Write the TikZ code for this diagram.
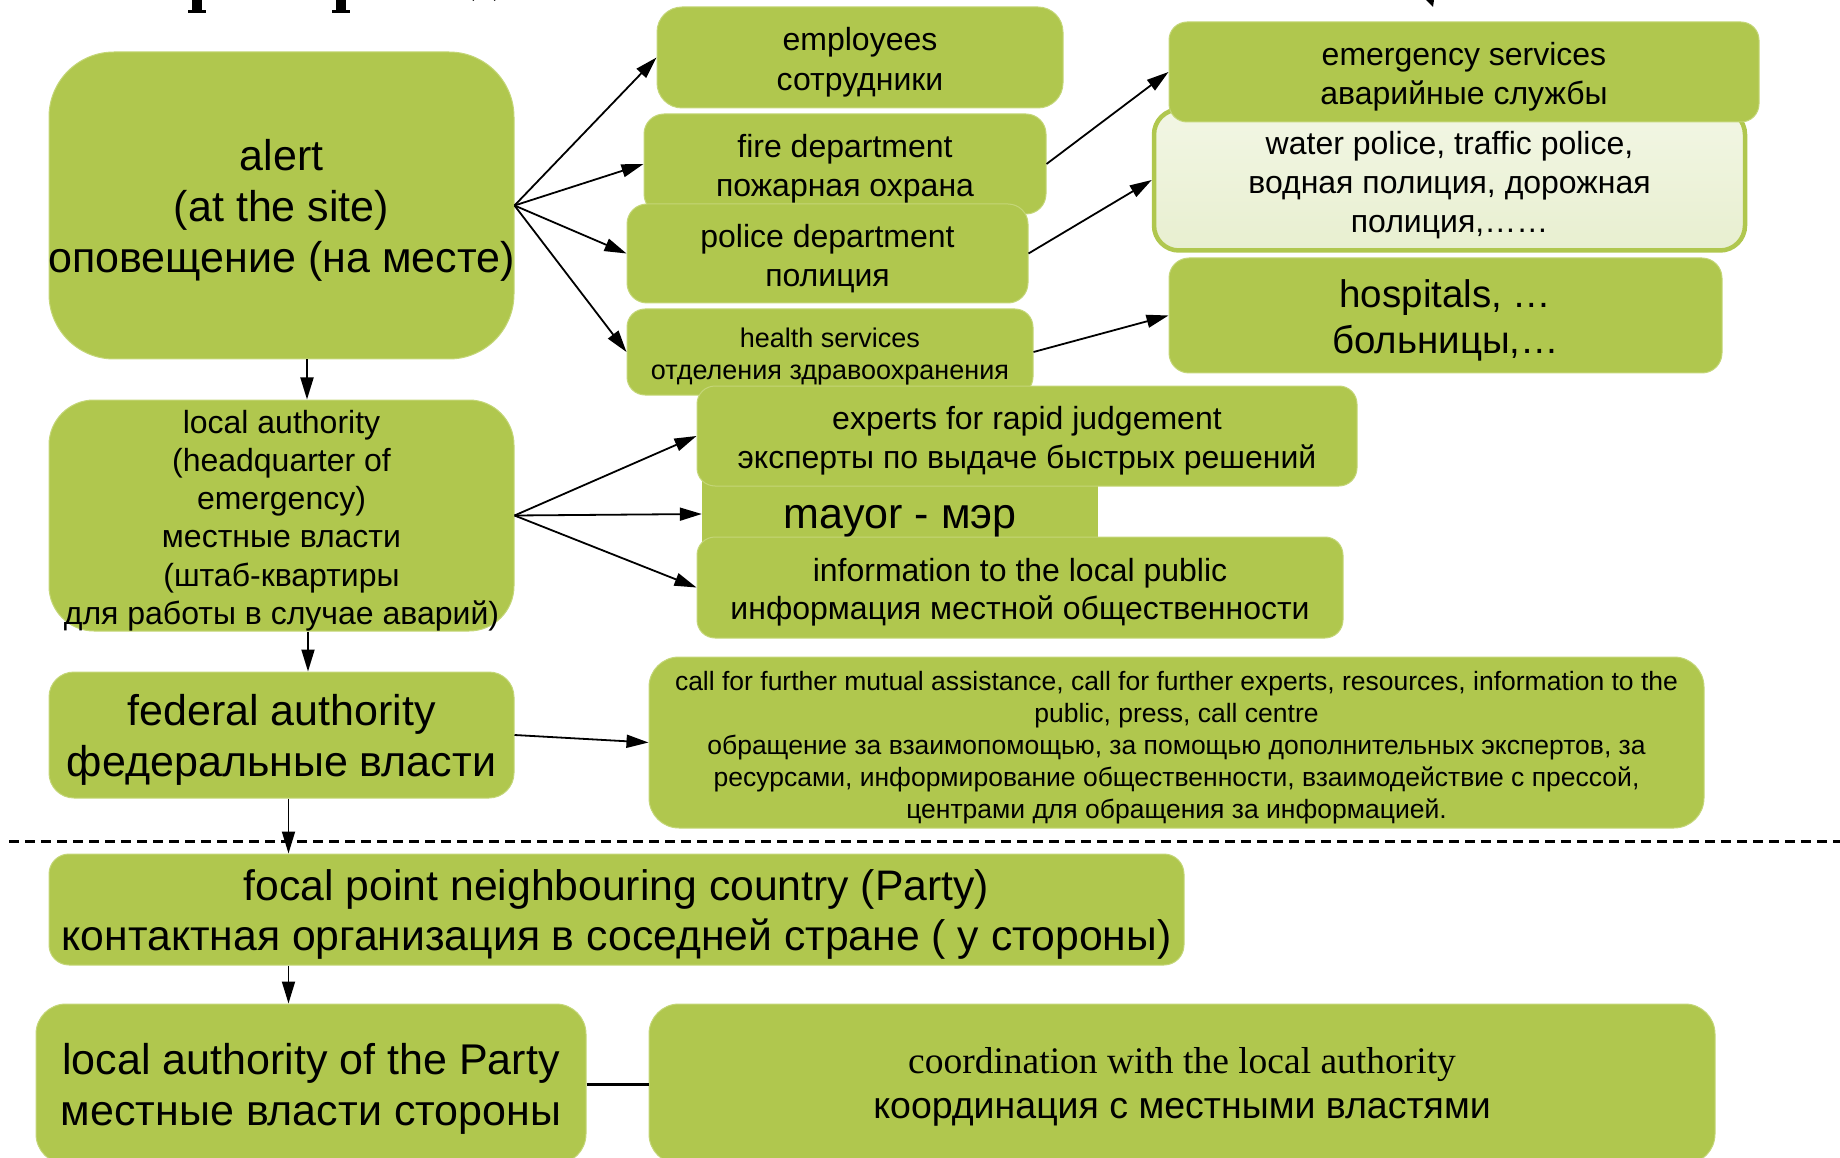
\documentclass[tikz,border=0pt]{standalone}
\usepackage{fontspec}
\setmainfont{Liberation Sans}
\newfontfamily\timesfont{Liberation Serif}
\usetikzlibrary{arrows.meta,calc}
\definecolor{boxgreen}{RGB}{176,199,78}
\definecolor{boxedge}{RGB}{196,214,120}
\definecolor{paletop}{RGB}{242,246,228}
\definecolor{palebot}{RGB}{232,239,208}
\newcommand\fsz[2]{\fontsize{#1pt}{#2pt}\selectfont}
\begin{document}
\begin{tikzpicture}[x=1pt,y=-1pt,
  panel/.style={fill=boxgreen, draw=boxedge, line width=1pt, rounded corners=#1,
    inner sep=0pt},
  panel/.default=20pt,
  caption/.style={align=center, text=black, inner sep=0pt, yshift=-5pt},
  link/.style={line width=1.8pt, -{Triangle[length=22pt,width=13pt]}},
  plain/.style={line width=3pt},
]
\useasboundingbox (0,0) rectangle (1840,1158);

% fragments of the heading line above the chart
\fill (192,0) rectangle (202,11);
\fill (188,10) rectangle (206,13);
\fill (336,0) rectangle (346,11);
\fill (332,10) rectangle (350,13);
\draw[line width=4pt] (472,0) arc[start angle=180, end angle=360, x radius=12, y radius=5];
\fill (1426,0) -- (1434,0) -- (1433,7) -- cycle;

% first tier: alert and the services notified from the site
\node[panel=25pt, minimum width=406pt, minimum height=101pt,
  label={[caption, font=\fsz{32}{40}]center:{employees\\сотрудники}}]
  (emp) at (860,57.5) {};
\node[panel=25pt, minimum width=591pt, minimum height=141pt,
  draw=boxgreen, line width=4.5pt, top color=paletop, bottom color=palebot,
  label={[caption, font=\fsz{32}{39}]center:{water police, traffic police,\\водная полиция, дорожная\\полиция,……}}]
  (water) at (1449.5,180) {};
\node[panel=18pt, minimum width=590pt, minimum height=100pt,
  label={[caption, font=\fsz{32}{39}]center:{emergency services\\аварийные службы}}]
  (emerg) at (1464,72) {};
\node[panel=20pt, minimum width=402pt, minimum height=100pt,
  label={[caption, font=\fsz{32}{39}]center:{fire department\\пожарная охрана}}]
  (fire) at (845,164) {};
\node[panel=20pt, minimum width=401pt, minimum height=99pt,
  label={[caption, font=\fsz{32}{39}]center:{police department\\полиция}}]
  (police) at (827.5,253.5) {};
\node[panel=18pt, minimum width=406pt, minimum height=86pt,
  label={[caption, font=\fsz{27}{32}]center:{health services\\отделения здравоохранения}}]
  (health) at (830,352) {};
\node[panel=20pt, minimum width=553pt, minimum height=115pt,
  label={[caption, font=\fsz{38.5}{46}]center:{hospitals, …\\больницы,…}}]
  (hosp) at (1445.5,315.5) {};
\node[panel=65pt, minimum width=465pt, minimum height=307pt,
  label={[caption, font=\fsz{43}{51}]center:{alert\\(at the site)\\оповещение (на месте)}}]
  (alert) at (281.5,205.5) {};

% second tier: local authority
\node[fill=boxgreen, inner sep=0pt, minimum width=396pt, minimum height=84pt,
  label={[caption, yshift=-2pt, font=\fsz{43}{46}]center:{mayor - мэр}}]
  (mayor) at (900,514) {};
\node[panel=18pt, minimum width=660pt, minimum height=100pt,
  label={[caption, font=\fsz{32}{39}]center:{experts for rapid judgement\\эксперты по выдаче быстрых решений}}]
  (experts) at (1027,436) {};
\node[panel=18pt, minimum width=646pt, minimum height=101pt,
  label={[caption, font=\fsz{32}{38}]center:{information to the local public\\информация местной общественности}}]
  (info) at (1020,587.5) {};
\node[panel=45pt, minimum width=465pt, minimum height=231pt,
  label={[caption, font=\fsz{32}{38.3}]center:{local authority\\(headquarter of\\emergency)\\местные власти\\(штаб-квартиры\\для работы в случае аварий)}}]
  (local) at (281.5,515.5) {};

% third tier: federal authority
\node[panel=25pt, minimum width=465pt, minimum height=126pt,
  label={[caption, font=\fsz{43}{51.6}]center:{federal authority\\федеральные власти}}]
  (federal) at (281.5,735) {};
\node[panel=30pt, minimum width=1055pt, minimum height=171pt,
  label={[caption, font=\fsz{26.5}{32}]center:{call for further mutual assistance, call for further experts, resources, information to the\\public, press, call centre\\обращение за взаимопомощью, за помощью дополнительных экспертов, за\\ресурсами, информирование общественности, взаимодействие с прессой,\\центрами для обращения за информацией.}}]
  (call) at (1176.5,742.5) {};

% border between the two countries
\coordinate (bl) at (9,841);
\coordinate (br) at (1840,841);
\draw[line width=3pt, dash pattern=on 10pt off 6pt] (bl) -- (br);

% neighbouring country
\node[panel=20pt, minimum width=1135pt, minimum height=111pt,
  label={[caption, font=\fsz{42.7}{50.5}]center:{focal point neighbouring country (Party)\\контактная организация в соседней стране ( у стороны)}}]
  (focal) at (616.5,909.5) {};
\node[panel=30pt, minimum width=550pt, minimum height=160pt,
  label={[caption, font=\fsz{43}{50.5}]center:{local authority of the Party\\местные власти стороны}}]
  (party) at (311,1084) {};
\node[panel=30pt, minimum width=1066pt, minimum height=160pt,
  label={[caption, yshift=2pt, font=\fsz{37.5}{44.6}]center:{{\timesfont coordination with the local authority}\\координация с местными властями}}]
  (coord) at (1182,1084) {};

% connectors
\draw[link] (alert.east) -- (emp.west);
\draw[link] (alert.east) -- (fire.west);
\draw[link] (alert.east) -- (police.west);
\draw[link] (alert.east) -- (health.west);
\draw[link] (fire.east) -- (emerg.west);
\draw[link] (police.east) -- (water.west);
\draw[link] (health.east) -- (hosp.west);
\draw[link] ([xshift=25.5pt]alert.south) -- ([xshift=25.5pt]local.north);
\draw[link] (local.east) -- (experts.west);
\draw[link] (local.east) -- (mayor.west);
\draw[link] (local.east) -- (info.west);
\draw[link] ([xshift=26.5pt]local.south) -- ([xshift=26.5pt]federal.north);
\draw[link] (federal.east) -- (call.west);
\coordinate (fx) at ([xshift=7pt]federal.south);
\draw[link] (fx) -- (focal.north -| fx);
\draw[link] (focal.south -| fx) -- (party.north -| fx);
\draw[plain] (party.east) -- (coord.west);
\end{tikzpicture}
\end{document}
